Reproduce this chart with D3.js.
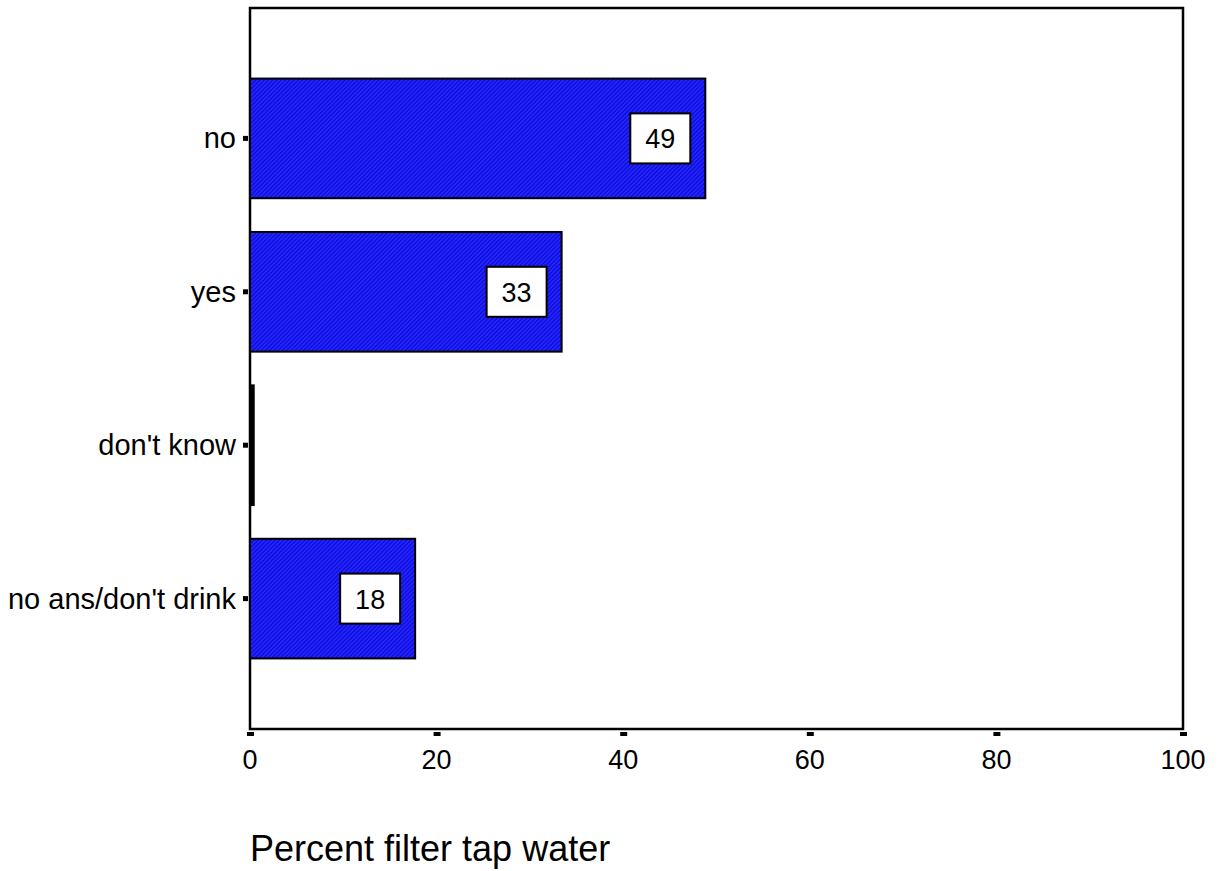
<!DOCTYPE html>
<html><head><meta charset="utf-8">
<script src="https://d3js.org/d3.v7.min.js"></script>
<style>body{margin:0;background:#fff}svg{display:block}</style>
</head><body>
<svg id="c" width="1220" height="871"></svg>
<script>
const categories = ["no", "yes", "don't know", "no ans/don't drink"];
const values = [48.8, 33.4, 0.4, 17.7];
const valueLabels = ["49", "33", "", "18"];
const xTicks = [0, 20, 40, 60, 80, 100];
const xTitle = "Percent filter tap water";

const svg = d3.select("#c");
const L = 250, R = 1183, T = 8, B = 729;
const font = "Arial, 'Liberation Sans', sans-serif";

const defs = svg.append("defs");
const pat = defs.append("pattern").attr("id","hatch").attr("patternUnits","userSpaceOnUse")
  .attr("width",3).attr("height",3).attr("patternTransform","rotate(45)");
pat.append("rect").attr("width",3).attr("height",3).attr("fill","#2323ff");
pat.append("rect").attr("width",1).attr("height",3).attr("fill","#0a0ac8");

const x = d3.scaleLinear().domain([0,100]).range([L,R]);
const y = d3.scaleBand().domain(categories).range([T,B]).paddingInner(0.22).paddingOuter(0.46);

// frame
svg.append("rect").attr("x",L).attr("y",T).attr("width",R-L).attr("height",B-T)
  .attr("fill","none").attr("stroke","#000").attr("stroke-width",2.5);

// bars
svg.selectAll(".bar").data(categories).enter().append("rect")
  .attr("x", x(0)).attr("y", d=>y(d))
  .attr("width", (d,i)=>Math.max(0, x(values[i])-x(0)))
  .attr("height", y.bandwidth())
  .attr("fill", (d,i)=> values[i] < 1 ? "#000" : "url(#hatch)")
  .attr("stroke","#000").attr("stroke-width",2);

// value label boxes
categories.forEach((c,i)=>{
  if(!valueLabels[i]) return;
  const cx = x(values[i]) - 45, cy = y(c) + y.bandwidth()/2;
  svg.append("rect").attr("x",cx-30).attr("y",cy-25).attr("width",60).attr("height",50)
    .attr("fill","#fff").attr("stroke","#000").attr("stroke-width",2);
  svg.append("text").attr("x",cx).attr("y",cy+10).attr("text-anchor","middle")
    .attr("font-family",font).attr("font-size",27).text(valueLabels[i]);
});

// y ticks and labels
categories.forEach(c=>{
  const cy = y(c)+y.bandwidth()/2;
  svg.append("rect").attr("x",L-7).attr("y",cy-2.5).attr("width",5).attr("height",5).attr("fill","#000");
  svg.append("text").attr("x",L-14).attr("y",cy+10).attr("text-anchor","end")
    .attr("font-family",font).attr("font-size",29).text(c);
});

// x ticks and labels
xTicks.forEach(t=>{
  svg.append("rect").attr("x",x(t)-3).attr("y",B+3).attr("width",7).attr("height",4).attr("fill","#000");
  svg.append("text").attr("x",x(t)).attr("y",B+40).attr("text-anchor","middle")
    .attr("font-family",font).attr("font-size",27).text(t);
});

svg.append("text").attr("x",L).attr("y",861).attr("font-family",font).attr("font-size",36).text(xTitle);
</script>
</body></html>
